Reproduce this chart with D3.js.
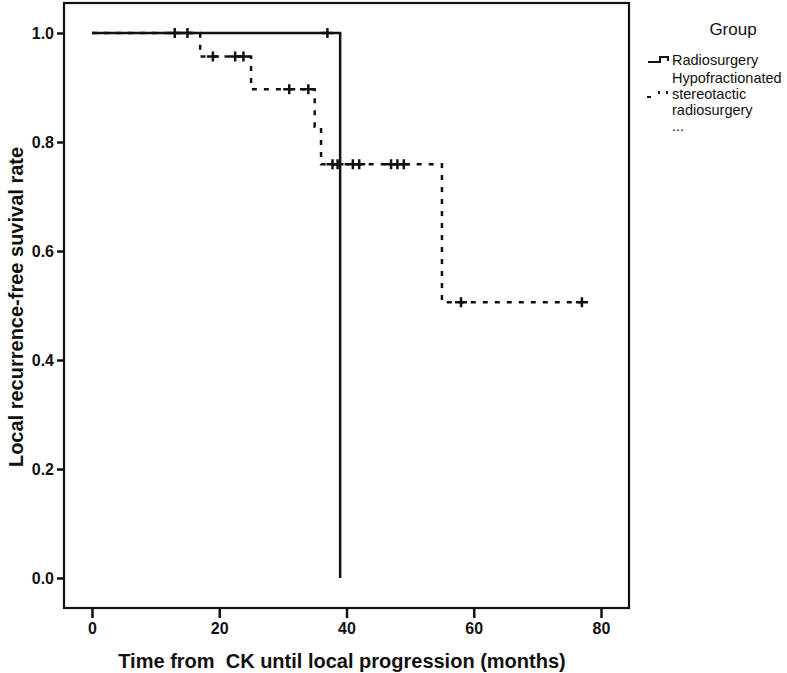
<!DOCTYPE html>
<html>
<head>
<meta charset="utf-8">
<script src="https://cdnjs.cloudflare.com/ajax/libs/d3/7.8.5/d3.min.js"></script>
<style>
    body { margin: 0; background: #fff; }
    text { font-family: "Liberation Sans", Arial, sans-serif; fill: #111; }
    .axis-title { font-size: 20px; font-weight: bold; }
    .legend-text { font-size: 14.5px; }
</style>
</head>
<body>
<div id="km-chart"></div>
<script>
// Kaplan-Meier data
var radioTimes = [0, 39];
var radioSurv = [1.0, 0.0];
var radioEnd = 39;
var radioCensored = [13, 15, 37];

var hypoTimes = [0, 17, 25, 35, 36, 55];
var hypoSurv = [1.0, 0.957, 0.897, 0.828, 0.759, 0.506];
var hypoEnd = 77;
var hypoCensored = [19, 22.5, 23.8, 31, 34, 37.8, 38.6, 41, 42, 47, 48, 49, 58, 77];

var xTicks = [0, 20, 40, 60, 80];
var yTicks = [0.0, 0.2, 0.4, 0.6, 0.8, 1.0];

var legendTitle = "Group";
var legendLabels = [["Radiosurgery"], ["Hypofractionated", "stereotactic", "radiosurgery", "..."]];

// --> SVG DRAWING AREA
var width = 787,
    height = 673;

var svg = d3.select("#km-chart").append("svg")
    .attr("width", width)
    .attr("height", height);

// frame of the plot
var frame = {left: 64, top: 3, right: 629, bottom: 608};

var x = d3.scaleLinear()
    .domain([0, 80])
    .range([92, 601]);

var y = d3.scaleLinear()
    .domain([0, 1])
    .range([578, 33]);

svg.append("rect")
    .attr("x", frame.left)
    .attr("y", frame.top)
    .attr("width", frame.right - frame.left)
    .attr("height", frame.bottom - frame.top)
    .attr("fill", "none")
    .attr("stroke", "#111")
    .attr("stroke-width", 2.2);

// axes (ticks sit outside the frame)
var yAxis = d3.axisLeft(y)
    .tickValues(yTicks)
    .tickFormat(d3.format(".1f"))
    .tickSize(7)
    .tickPadding(3);

var yG = svg.append("g")
    .attr("transform", "translate(" + frame.left + ",0)")
    .call(yAxis);

var xAxis = d3.axisBottom(x)
    .tickValues(xTicks)
    .tickFormat(d3.format("d"))
    .tickSize(10)
    .tickPadding(5);

var xG = svg.append("g")
    .attr("transform", "translate(0," + frame.bottom + ")")
    .call(xAxis);

[xG, yG].forEach(function (g) {
    g.select(".domain").remove();
    g.selectAll(".tick line").attr("stroke", "#111").attr("stroke-width", 2.5);
    g.selectAll(".tick text")
        .attr("fill", "#111")
        .style("font-size", "16px")
        .style("font-weight", "bold")
        .style("font-family", "'Liberation Sans', Arial, sans-serif");
});

// axis titles
svg.append("text")
    .attr("class", "axis-title")
    .attr("x", 342)
    .attr("y", 668)
    .attr("text-anchor", "middle")
    .attr("xml:space", "preserve")
    .style("white-space", "pre")
    .text("Time from  CK until local progression (months)");

svg.append("text")
    .attr("class", "axis-title")
    .attr("transform", "translate(23,307) rotate(-90)")
    .attr("text-anchor", "middle")
    .text("Local recurrence-free suvival rate");

// step curves
var stepLine = d3.line()
    .x(function (d) { return x(d[0]); })
    .y(function (d) { return y(d[1]); })
    .curve(d3.curveStepAfter);

function buildSteps(times, surv, end) {
    var pts = times.map(function (t, i) { return [t, surv[i]]; });
    if (end > times[times.length - 1]) {
        pts.push([end, surv[surv.length - 1]]);
    }
    return pts;
}

function survAt(times, surv, t) {
    var i = d3.bisectRight(times, t) - 1;
    return surv[Math.max(0, i)];
}

var series = [
    {times: radioTimes, surv: radioSurv, end: radioEnd, censored: radioCensored, dash: null},
    {times: hypoTimes, surv: hypoSurv, end: hypoEnd, censored: hypoCensored, dash: "5,7"}
];

series.forEach(function (s) {
    svg.append("path")
        .attr("d", stepLine(buildSteps(s.times, s.surv, s.end)))
        .attr("fill", "none")
        .attr("stroke", "#111")
        .attr("stroke-width", 2.5)
        .attr("stroke-dasharray", s.dash);

    // censor marks
    svg.append("g")
        .selectAll("path")
        .data(s.censored)
        .enter()
        .append("path")
        .attr("d", function (t) {
            var cx = x(t), cy = y(survAt(s.times, s.surv, t));
            return "M" + (cx - 6) + "," + cy + "H" + (cx + 6) +
                "M" + cx + "," + (cy - 5) + "V" + (cy + 5);
        })
        .attr("stroke", "#111")
        .attr("stroke-width", 2.5);
});

// legend
svg.append("text")
    .attr("x", 733)
    .attr("y", 35)
    .attr("text-anchor", "middle")
    .style("font-size", "17px")
    .text(legendTitle);

var legendRows = [65, 83];
legendLabels.forEach(function (lines, i) {
    lines.forEach(function (line, j) {
        svg.append("text")
            .attr("class", "legend-text")
            .attr("x", 672)
            .attr("y", legendRows[i] + j * 16)
            .text(line);
    });
});

// legend symbols
svg.append("path")
    .attr("d", "M648,62H660V57H668V61")
    .attr("fill", "none")
    .attr("stroke", "#111")
    .attr("stroke-width", 2);

svg.append("path")
    .attr("d", "M647,97H651M659,91V94M667,91V94")
    .attr("fill", "none")
    .attr("stroke", "#111")
    .attr("stroke-width", 2);
</script>
</body>
</html>
